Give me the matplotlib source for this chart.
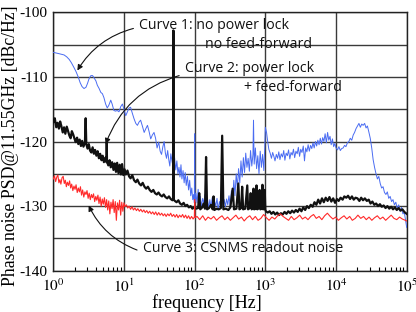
import matplotlib
matplotlib.use("Agg")
import matplotlib.pyplot as plt
from matplotlib.ticker import LogLocator, FixedLocator, NullFormatter

# ---------------- data ----------------
# Curve 1: no power lock, no feed-forward (blue)
f1 = [1.0, 1.1, 1.2, 1.3, 1.42, 1.55, 1.68, 1.8, 1.95, 2.1, 2.25, 2.4, 2.55, 2.72, 2.9, 3.05,
      3.2, 3.4, 3.6, 3.8, 4.0, 4.2, 4.45, 4.7, 4.95, 5.2, 5.5, 5.8, 6.1, 6.5, 6.8, 7.2, 7.6, 8.0,
      8.5, 9.0, 9.5, 10.0, 10.6, 11.2, 11.8, 12.4, 13.1, 13.9, 14.7, 15.5, 16.3, 17.2, 18.2, 19.3,
      20.4, 21.5, 22.7, 23.9, 25.2, 26.6, 28.0, 29.4, 31.0, 32.5, 34.0, 35.5, 37.0, 38.5, 40.0,
      41.5, 43.0, 44.5, 46.0, 48.0, 50.0, 52.0, 54.0, 56.0, 58.0, 60.0, 62.0, 64.0, 66.0, 68.5,
      71.0, 73.5, 76.0, 79.0, 82.0, 85.0, 88.0, 91.0, 94.0, 97.0, 99.0, 100.0, 101.0, 104, 108,
      112, 116, 120, 125, 130, 135, 140, 146, 152, 158, 164, 170, 177, 184, 191, 199, 207, 215,
      224, 233, 242, 252, 262, 272, 283, 294, 306, 318, 331, 344, 358, 372, 387, 402, 418, 435,
      452, 470, 489, 508, 528, 549, 571, 594, 618, 643, 668, 680, 695, 723, 752, 782, 813, 846,
      880, 915, 952, 980, 1000, 1040, 1080, 1120, 1170, 1220, 1270, 1320, 1370, 1430, 1490, 1550,
      1610, 1680, 1750, 1820, 1890, 1970, 2050, 2130, 2220, 2310, 2400, 2500, 2600, 2710, 2820,
      2930, 3050, 3170, 3300, 3440, 3580, 3720, 3870, 4030, 4190, 4360, 4540, 4720, 4910, 5110,
      5320, 5530, 5760, 5990, 6230, 6480, 6740, 7010, 7300, 7600, 7900, 8220, 8550, 8900, 9260,
      9640, 10000, 10500, 11000, 11500, 12000, 12600, 13200, 13800, 14500, 15200, 15900, 16700,
      17500, 18300, 19200, 20100, 21100, 22100, 23100, 24200, 25400, 26600, 27800, 29100, 30500,
      32000, 33500, 35100, 36800, 38500, 40300, 42200, 44200, 46300, 48500, 50800, 53200, 55700,
      58300, 61100, 64000, 67000, 70200, 73500, 77000, 80600, 84400, 88400, 92600, 97000, 100000]
p1 = [-106.2, -106.3, -106.4, -106.5, -106.6, -106.9, -107.3, -107.8, -108.5, -109.2, -110.0,
      -110.9, -111.5, -111.8, -111.6, -111.0, -110.3, -109.8, -109.8, -110.2, -110.6, -111.3,
      -111.8, -112.4, -112.6, -113.2, -114.2, -114.8, -114.4, -113.6, -114.2, -115.2, -115.3,
      -115.2, -115.4, -114.6, -114.2, -115.0, -116.0, -115.4, -114.8, -114.7, -115.6, -116.5,
      -117.2, -117.5, -117.0, -116.7, -117.6, -118.6, -118.0, -117.5, -118.5, -119.6, -119.0,
      -118.6, -119.5, -121.0, -120.1, -121.5, -122.0, -120.8, -120.0, -121.8, -122.6, -121.4,
      -122.8, -123.8, -121.9, -123.2, -124.0, -122.5, -124.4, -123.0, -125.0, -124.0, -125.5,
      -123.6, -125.8, -124.5, -126.4, -124.8, -126.8, -125.4, -127.5, -126.0, -128.4, -127.2,
      -129.0, -128.2, -129.5, -118.8, -129.3, -128.0, -129.5, -127.4, -129.8, -128.5, -130.0,
      -128.8, -129.6, -128.2, -129.9, -128.9, -130.4, -129.0, -130.2, -128.7, -130.5, -129.2,
      -130.0, -128.8, -130.6, -129.3, -130.0, -128.5, -130.3, -129.0, -130.1, -128.9, -129.8,
      -128.4, -130.0, -127.6, -129.2, -126.0, -128.4, -125.0, -127.2, -124.2, -126.4, -123.0,
      -125.5, -122.5, -124.8, -121.8, -124.0, -122.6, -124.6, -121.4, -123.8, -122.0, -116.7,
      -123.5, -121.0, -124.2, -122.2, -125.0, -121.5, -124.0, -122.0, -124.5, -121.0, -117.8,
      -118.6, -120.0, -121.2, -121.8, -122.6, -121.7, -122.3, -123.0, -122.0, -122.6, -121.6,
      -122.8, -121.9, -122.4, -121.4, -122.9, -121.8, -122.2, -121.3, -122.7, -121.7, -122.1,
      -121.2, -122.5, -121.5, -121.9, -120.9, -122.3, -121.2, -121.7, -120.7, -123.0, -121.0,
      -121.6, -120.5, -121.5, -120.6, -121.1, -120.2, -121.0, -120.0, -120.7, -119.8, -120.5,
      -119.5, -120.4, -119.4, -120.0, -118.8, -120.2, -118.6, -119.8, -119.2, -120.5, -119.6,
      -120.8, -120.3, -121.0, -121.3, -120.8, -121.4, -121.1, -121.0, -120.6, -120.8, -120.2,
      -120.0, -119.5, -119.8, -119.0, -118.6, -118.0, -117.6, -117.2, -117.8, -117.3, -117.5,
      -117.2, -117.9, -117.6, -118.5, -119.5, -121.0, -122.8, -124.0, -125.0, -125.8, -125.4,
      -126.5, -127.2, -127.0, -127.9, -128.2, -127.8, -128.8, -128.5, -129.3, -129.0, -129.8,
      -129.4, -130.4, -129.8, -130.8, -130.2, -131.2, -131.0, -132.4, -133.3]

# Curve 2: power lock + feed-forward (black), ten values per row
f2 = [1.0, 1.05, 1.1, 1.15, 1.2, 1.25, 1.3, 1.36, 1.42, 1.48,
      1.55, 1.62, 1.69, 1.76, 1.83, 1.91, 2.0, 2.08, 2.17, 2.26,
      2.36, 2.46, 2.56, 2.67, 2.8, 2.87, 2.93, 3.05, 3.18, 3.31,
      3.45, 3.6, 3.75, 3.9, 4.07, 4.24, 4.42, 4.6, 4.8, 5.0,
      5.2, 5.45, 5.65, 5.7, 5.75, 6.0, 6.25, 6.5, 6.8, 7.1,
      7.4, 7.7, 8.0, 8.35, 8.7, 9.05, 9.4, 9.8, 10.2, 10.6,
      11.2, 11.8, 12.4, 13.1, 13.9, 14.7, 15.5, 16.4, 17.4, 18.4,
      19.5, 20.6, 21.8, 23.1, 24.5, 26.0, 27.5, 29.1, 30.8, 32.6,
      34.5, 36.5, 38.6, 40.9, 43.3, 45.8, 48.5, 49.5, 50.0, 50.5,
      52.5, 55.5, 58.8, 62.2, 65.9, 69.8, 73.9, 78.2, 82.8, 87.7,
      92.8, 98.3, 104, 112, 116, 120, 128, 134, 140, 145,
      150, 160, 170, 180, 185, 190, 205, 220, 235, 245,
      255, 275, 300, 320, 345, 360, 390, 415, 430, 455,
      470, 485, 520, 555, 570, 600, 620, 640, 665, 680,
      695, 730, 750, 770, 810, 830, 850, 890, 910, 930,
      960, 980, 1000, 1020, 1080, 1150, 1220, 1300, 1380, 1470,
      1560, 1660, 1760, 1870, 1990, 2110, 2250, 2390, 2540, 2700,
      2870, 3050, 3240, 3440, 3660, 3890, 4130, 4390, 4670, 4960,
      5270, 5600, 5950, 6330, 6720, 7150, 7600, 8070, 8580, 9120,
      9700, 10300, 10900, 11600, 12400, 13100, 14000, 14800, 15800, 16800,
      17800, 18900, 20100, 21400, 22700, 24100, 25600, 27300, 29000, 30800,
      32700, 34800, 37000, 39300, 41800, 44400, 47200, 50200, 53300, 56700,
      60300, 64100, 68100, 72400, 77000, 81800, 87000, 92500, 100000]
p2 = [-117.0, -116.4, -117.8, -117.1, -118.0, -116.9, -117.6, -118.6, -117.8, -118.8,
      -117.7, -118.4, -119.1, -119.5, -118.4, -118.9, -119.6, -120.1, -119.4, -120.4,
      -119.7, -120.7, -119.9, -120.8, -120.2, -116.4, -120.4, -121.1, -120.4, -121.4,
      -121.7, -120.9, -121.9, -121.3, -122.2, -121.5, -122.6, -121.9, -122.9, -122.2,
      -123.2, -122.5, -123.2, -120.1, -123.1, -123.7, -122.9, -124.0, -123.2, -124.4,
      -123.4, -124.7, -123.3, -124.9, -123.6, -125.1, -123.5, -125.2, -124.3, -125.1,
      -124.5, -125.4, -125.7, -125.2, -126.0, -126.3, -125.9, -126.5, -126.8, -126.4,
      -127.0, -127.3, -127.0, -127.5, -127.8, -127.5, -128.0, -128.2, -127.9, -128.3,
      -128.5, -128.2, -128.6, -128.8, -128.5, -128.9, -129.1, -128.9, -102.8, -129.0,
      -129.2, -129.4, -129.1, -129.6, -129.8, -129.5, -130.0, -129.8, -130.2, -130.0,
      -130.4, -130.2, -130.4, -130.3, -128.0, -130.5, -130.2, -129.6, -130.4, -122.4,
      -130.5, -130.3, -129.8, -130.5, -128.5, -130.6, -130.4, -130.5, -130.3, -119.1,
      -130.5, -130.4, -130.6, -130.2, -127.3, -130.5, -130.4, -126.5, -130.5, -130.3,
      -127.0, -130.5, -130.4, -126.8, -130.5, -130.3, -128.0, -130.5, -130.3, -127.3,
      -130.5, -130.4, -126.8, -130.5, -130.3, -127.5, -130.5, -130.4, -126.7, -130.5,
      -130.4, -127.5, -130.6, -130.8, -131.0, -130.8, -131.2, -130.9, -131.3, -131.0,
      -131.4, -131.1, -131.3, -130.9, -131.2, -130.8, -131.1, -130.7, -131.0, -130.6,
      -130.9, -130.4, -130.8, -130.2, -130.6, -130.0, -130.3, -129.8, -130.1, -129.4,
      -129.8, -129.0, -129.6, -128.8, -129.4, -128.7, -129.2, -128.6, -129.3, -128.8,
      -129.5, -128.9, -129.2, -128.7, -129.0, -128.5, -128.7, -128.4, -128.9, -128.5,
      -129.0, -128.7, -128.8, -129.2, -128.7, -129.1, -128.8, -129.2, -129.0, -129.6,
      -129.3, -129.8, -129.6, -130.0, -129.7, -130.1, -129.9, -130.3, -130.0, -130.4,
      -130.1, -130.5, -130.2, -130.6, -130.3, -130.7, -130.5, -130.9, -131.2]

# Curve 3: CSNMS readout noise (red)
f3 = [1.0, 1.04, 1.08, 1.12, 1.16, 1.2, 1.24, 1.28, 1.33, 1.38, 1.43, 1.48, 1.53, 1.58, 1.64, 1.7,
      1.76, 1.82, 1.89, 1.96, 2.03, 2.1, 2.18, 2.26, 2.34, 2.42, 2.51, 2.6, 2.7, 2.8, 2.9, 3.0,
      3.11, 3.22, 3.34, 3.46, 3.58, 3.71, 3.85, 3.99, 4.13, 4.28, 4.43, 4.59, 4.76, 4.93, 5.1,
      5.29, 5.48, 5.68, 5.88, 6.09, 6.31, 6.54, 6.78, 7.02, 7.27, 7.53, 7.8, 8.08, 8.37, 8.67,
      8.98, 9.3, 9.64, 9.98, 10.3, 10.8, 11.3, 11.8, 12.4, 13.0, 13.6, 14.3, 15.0, 15.7, 16.5,
      17.3, 18.2, 19.1, 20.0, 21.0, 22.0, 23.1, 24.3, 25.5, 26.8, 28.1, 29.5, 31.0, 32.5, 34.2,
      35.9, 37.7, 39.5, 41.5, 43.6, 45.8, 48.0, 50.4, 52.9, 55.6, 58.3, 61.2, 64.3, 67.5, 70.9,
      74.4, 78.1, 82.0, 86.1, 90.4, 94.9, 99.0, 100.0, 101.0, 108, 118, 130, 142, 155, 170, 186,
      204, 223, 244, 267, 292, 320, 350, 383, 419, 459, 502, 550, 602, 659, 721, 789, 864, 945,
      1035, 1130, 1240, 1360, 1490, 1630, 1780, 1950, 2130, 2330, 2550, 2800, 3060, 3350, 3670,
      4010, 4390, 4810, 5260, 5760, 6300, 6900, 7550, 8260, 9040, 9900, 10800, 11900, 13000,
      14200, 15600, 17000, 18700, 20400, 22400, 24500, 26800, 29300, 32100, 35100, 38400, 42100,
      46000, 50400, 55200, 60400, 66100, 72300, 79200, 86700, 94900, 100000]
p3 = [-125.8, -125.3, -126.2, -125.5, -125.2, -126.4, -125.9, -126.6, -125.6, -125.4, -126.5,
      -126.0, -127.0, -126.3, -126.8, -126.1, -127.2, -126.6, -127.6, -126.9, -127.4, -126.7,
      -127.9, -127.2, -127.8, -127.0, -128.3, -127.5, -128.6, -127.8, -128.2, -127.6, -128.8,
      -128.0, -129.0, -128.2, -128.7, -128.1, -129.3, -128.5, -129.1, -128.3, -129.6, -128.6,
      -130.0, -128.9, -129.7, -128.7, -130.2, -129.0, -130.6, -129.2, -131.2, -129.4, -130.4,
      -129.0, -131.0, -129.3, -132.2, -129.5, -130.6, -129.1, -131.4, -129.4, -130.8, -129.5,
      -130.1, -129.8, -130.3, -130.0, -130.5, -130.1, -130.6, -130.3, -130.7, -130.4, -130.8,
      -130.5, -130.9, -130.6, -131.0, -130.7, -131.1, -130.8, -131.2, -130.9, -131.3, -130.9,
      -131.4, -131.0, -131.4, -131.1, -131.5, -131.2, -131.6, -131.2, -131.5, -131.1, -131.6,
      -131.3, -131.7, -131.3, -131.8, -131.4, -131.7, -131.3, -131.8, -131.4, -131.9, -131.5,
      -132.0, -131.6, -132.0, -131.7, -129.0,
      -131.8, -131.6, -132.1, -131.5, -132.2, -131.7, -132.0, -131.6,
      -132.2, -131.8, -131.5, -132.1, -131.7, -132.2, -131.8, -131.4, -132.0, -131.7, -132.3,
      -131.8, -131.5, -132.1, -131.6, -132.2, -131.9, -131.3,
      -131.8, -132.2, -131.7, -132.0, -131.5, -131.2, -131.6, -131.9, -132.2, -131.6, -132.1,
      -131.8, -131.4, -132.0, -131.7,
      -132.1, -131.6, -131.3, -131.9, -131.6, -132.1, -131.5, -131.1, -131.6, -132.0, -131.7,
      -132.2, -131.8, -131.5,
      -132.0, -131.6, -132.2, -131.9, -131.4, -131.9, -131.6, -132.1, -131.7, -132.2, -131.8,
      -131.5, -132.0,
      -131.7, -132.2, -131.8, -131.4, -131.9, -132.1, -131.7, -132.0, -132.2, -132.3]

y_ticks = [-140, -130, -120, -110, -100]
y_grid = [-140, -135, -130, -125, -120, -115, -110, -105, -100]
x_ticks = [1, 10, 100, 1000, 10000, 100000]
x_ticklabels = [r"$10^{0}$", r"$10^{1}$", r"$10^{2}$", r"$10^{3}$", r"$10^{4}$", r"$10^{5}$"]

# ---------------- figure ----------------
plt.rcParams["axes.unicode_minus"] = False
plt.rcParams["mathtext.fontset"] = "stix"
serif = "Liberation Serif"
sans = "Open Sans"

fig = plt.figure(figsize=(4.16, 3.12), dpi=100)
W, H = 416.0, 312.0
ax = fig.add_axes([53.3 / W, 1 - 270.7 / H, 353.4 / W, 258.4 / H])

ax.set_xscale("log")
ax.set_xlim(1, 1e5)
ax.set_ylim(-140, -100)

ax.plot(f1, p1, color="#4a6cf2", lw=0.7, zorder=3)
ax.plot(f2, p2, color="#111111", lw=1.6, zorder=4)
ax.plot(f3, p3, color="#ff2a2a", lw=0.8, zorder=5)

# grid
ax.xaxis.set_major_locator(FixedLocator(x_ticks))
ax.set_xticklabels(x_ticklabels)
ax.yaxis.set_major_locator(FixedLocator(y_ticks))
ax.set_yticklabels([str(v) for v in y_ticks])
ax.xaxis.set_minor_locator(LogLocator(base=10, subs=[2, 3, 4, 5, 6, 7, 8, 9], numticks=20))
ax.xaxis.set_minor_formatter(NullFormatter())
for xv in x_ticks:
    ax.axvline(xv, color="#3a3a3a", lw=1.0, zorder=1)
for yv in y_grid:
    ax.axhline(yv, color="#3a3a3a", lw=1.0, zorder=1)

ax.tick_params(axis="both", which="major", length=0)
ax.tick_params(axis="x", which="minor", direction="in", length=3, width=0.8, bottom=True, top=False)
ax.tick_params(axis="y", which="minor", length=0)
for lab in ax.get_xticklabels():
    lab.set_fontsize(11)
for lab in ax.get_yticklabels():
    lab.set_fontfamily(serif)
    lab.set_fontsize(11)
ax.tick_params(axis="y", pad=4)
ax.tick_params(axis="x", pad=5)
for s in ax.spines.values():
    s.set_linewidth(1.0)
    s.set_color("#222222")

ax.set_xlabel("frequency [Hz]", fontfamily=serif, fontsize=13)
ax.set_ylabel("Phase noise PSD@11.55GHz [dBc/Hz]", fontfamily=serif, fontsize=12.8)
ax.xaxis.set_label_coords(0.434, -0.092)
ax.yaxis.set_label_coords(-0.097, 0.483)

# annotations
tkw = dict(fontfamily=sans, fontsize=10.2, va="center", ha="left", color="#111111", zorder=6)
ax.text(16.5, -102.0, "Curve 1: no power lock", **tkw)
ax.text(142, -105.0, "no feed-forward", **tkw)
ax.text(74, -108.7, "Curve 2: power lock", **tkw)
ax.text(492, -111.6, "+ feed-forward", **tkw)
ax.text(18.8, -136.6, "Curve 3: CSNMS readout noise", **tkw)

akw = dict(arrowstyle="-|>", color="#111111", lw=0.8, shrinkA=0, shrinkB=0, mutation_scale=8)
ax.annotate("", xy=(2.19, -109.0), xytext=(13.6, -102.5),
            arrowprops=dict(connectionstyle="arc3,rad=0.2", **akw), zorder=6)
ax.annotate("", xy=(5.5, -120.4), xytext=(60.3, -109.8),
            arrowprops=dict(connectionstyle="arc3,rad=0.25", **akw), zorder=6)
ax.annotate("", xy=(3.16, -129.9), xytext=(15.3, -136.8),
            arrowprops=dict(connectionstyle="arc3,rad=-0.2", **akw), zorder=6)

fig.savefig("out.png", dpi=100)
